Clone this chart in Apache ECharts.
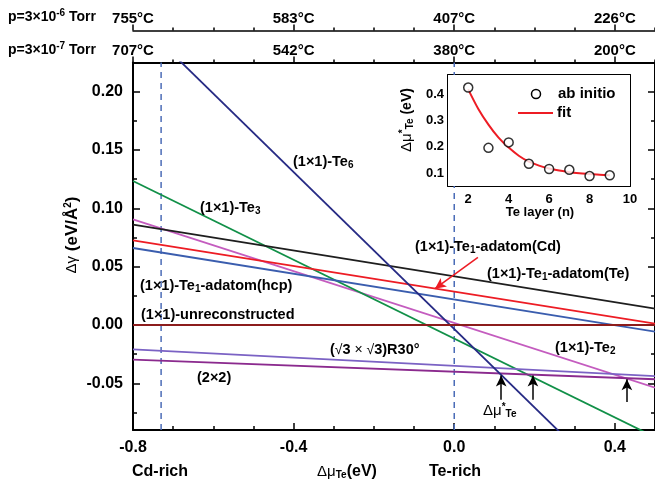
<!DOCTYPE html>
<html>
<head>
<meta charset="utf-8">
<script src="https://cdn.jsdelivr.net/npm/echarts@6/dist/echarts.min.js"></script>
<style>
html,body{margin:0;padding:0;background:#fff}
#chart{width:655px;height:489px}
</style>
</head>
<body>
<div id="chart"></div>
<script>
// surface energy lines, value at each end of the mu range
var muEnds = [-0.8, 0.5];
var te6 = [0.2656, -0.1716];
var te3 = [0.1234, -0.0961];
var te2 = [0.0906, -0.0537];
var adatomTe = [0.0860, 0.0140];
var adatomCd = [0.0726, 0.0011];
var adatomHcp = [0.0660, -0.0057];
var unrec = [0, 0];
var root3 = [-0.0209, -0.0438];
var p2x2 = [-0.0297, -0.0465];

var yRange = [-0.09, 0.225];
var muLimits = [-0.73, 0.0];
// arrows at the crossing points
var muStar = [0.117, 0.196, 0.430];
var muStarTip = [-0.0432, -0.0432, -0.0466];
var muStarTail = [-0.064, -0.064, -0.066];
var cdArrow = [[0.059, 0.058], [-0.048, 0.0311]];

var xTicks = [-0.8, -0.4, 0.0, 0.4];
var xMinor = [-0.7, -0.6, -0.5, -0.3, -0.2, -0.1, 0.1, 0.2, 0.3, 0.5];
var yTicks = [-0.05, 0, 0.05, 0.1, 0.15, 0.2];
var yMinor = [-0.075, -0.025, 0.025, 0.075, 0.125, 0.175];
var tempHigh = ['755°C', '583°C', '407°C', '226°C'];
var tempLow = ['707°C', '542°C', '380°C', '200°C'];

// inset
var layers = [2, 3, 4, 5, 6, 7, 8, 9];
var abInitio = [0.427, 0.196, 0.217, 0.135, 0.115, 0.112, 0.088, 0.091];
var fitN = [2, 2.5, 3, 3.5, 4, 4.5, 5, 5.5, 6, 6.5, 7, 7.5, 8, 8.5, 9];
var fitVals = [0.42, 0.345, 0.285, 0.235, 0.197, 0.166, 0.143, 0.128, 0.117, 0.109, 0.103, 0.099, 0.096, 0.093, 0.091];
var inXTicks = [2, 4, 6, 8, 10];
var inXMinor = [3, 5, 7, 9];
var inYTicks = [0.1, 0.2, 0.3, 0.4];

var FONT = '"Liberation Sans", Arial, Helvetica, sans-serif';
var RICH = {
	s: {fontSize: 10, fontWeight: 'bold', fontFamily: FONT, padding: [7, 0, 0, 0]},
	u: {fontSize: 10, fontWeight: 'bold', fontFamily: FONT, padding: [0, 0, 7, 0]},
	r: {fontSize: 15, fontWeight: 'normal', fontFamily: FONT},
	n: {fontSize: 14, fontWeight: 'normal', fontFamily: FONT}
};

function seg(vals, color) {
	return {
		type: 'line', xAxisIndex: 0, yAxisIndex: 0, silent: true,
		data: muEnds.map(function (m, i) { return [m, vals[i]]; }),
		symbol: 'none', lineStyle: {color: color, width: 1.8}
	};
}
function tickAxis(grid, pos, vals, len, inside, extra) {
	var a = {
		type: 'value', gridIndex: grid, position: pos,
		axisLine: {show: false, onZero: false},
		axisTick: {show: true, inside: inside, length: len, customValues: vals, lineStyle: {color: '#000', width: 1.5}},
		axisLabel: {show: false},
		splitLine: {show: false}
	};
	for (var k in extra) a[k] = extra[k];
	return a;
}
function label(x, y, text, size, align, rot, weight) {
	return {
		type: 'text', x: x, y: y, rotation: rot || 0, z: 100, silent: true,
		style: {
			text: text, fill: '#000', fontSize: size, fontWeight: weight || 'bold', fontFamily: FONT,
			align: align || 'left', textAlign: align || 'left', verticalAlign: 'middle', textVerticalAlign: 'middle',
			rich: RICH
		}
	};
}
var line2 = {show: true, onZero: false, lineStyle: {color: '#000', width: 2}};
var lab16 = {fontSize: 16, fontWeight: 'bold', color: '#000', fontFamily: FONT};

var mainX = {min: muEnds[0], max: muEnds[1]};
var mainY = {min: yRange[0], max: yRange[1]};
var inX = {min: 1, max: 10};
var inY = {min: 0.05, max: 0.475};
function m(a, b) { var o = {}; for (var k in a) o[k] = a[k]; for (var j in b) o[j] = b[j]; return o; }

var chart = echarts.init(document.getElementById('chart'));
chart.setOption({
	backgroundColor: '#fff',
	animation: false,
	grid: [
		{left: 133, top: 62.5, width: 525, height: 367.5},
		{left: 448, top: 75, width: 182, height: 111, show: true, backgroundColor: '#fff', borderWidth: 0, z: 5}
	],
	xAxis: [
		tickAxis(0, 'bottom', xTicks, 7, true, m(mainX, {axisLine: line2,
			axisLabel: m(lab16, {customValues: xTicks, margin: 10, formatter: function (v) { return v.toFixed(1); }})})),
		tickAxis(0, 'bottom', xMinor, 4, true, mainX),
		tickAxis(0, 'top', xTicks, 6, false, m(mainX, {axisLine: line2,
			axisLabel: m(lab16, {fontSize: 15, customValues: xTicks, margin: 4, formatter: function (v) { return tempLow[Math.round((v + 0.8) / 0.4)]; }})})),
		tickAxis(0, 'top', xMinor, 3, false, mainX),
		tickAxis(0, 'top', xTicks, 6, false, m(mainX, {offset: 32, axisLine: {show: true, onZero: false, lineStyle: {color: '#000', width: 1.5}},
			axisLabel: m(lab16, {fontSize: 15, customValues: xTicks, margin: 4, formatter: function (v) { return tempHigh[Math.round((v + 0.8) / 0.4)]; }})})),
		tickAxis(0, 'top', xMinor, 3, false, m(mainX, {offset: 32})),
		tickAxis(1, 'bottom', inXTicks, 4, true, m(inX, {axisLine: line2,
			axisLabel: m(lab16, {fontSize: 13, customValues: inXTicks, margin: 7})})),
		tickAxis(1, 'bottom', inXMinor, 3, true, inX),
		tickAxis(1, 'top', layers, 3, true, m(inX, {axisLine: line2}))
	],
	yAxis: [
		tickAxis(0, 'left', yTicks, 7, true, m(mainY, {axisLine: line2,
			axisLabel: m(lab16, {customValues: yTicks, margin: 10, formatter: function (v) { return v.toFixed(2); }})})),
		tickAxis(0, 'left', yMinor, 4, true, mainY),
		tickAxis(0, 'right', yTicks, 7, true, m(mainY, {axisLine: line2})),
		tickAxis(0, 'right', yMinor, 4, true, mainY),
		tickAxis(1, 'left', inYTicks, 4, true, m(inY, {axisLine: line2,
			axisLabel: m(lab16, {fontSize: 13, customValues: inYTicks, margin: 4, formatter: function (v) { return v.toFixed(1); }})})),
		tickAxis(1, 'right', inYTicks, 4, true, m(inY, {axisLine: line2}))
	],
	series: [
		{
			type: 'line', xAxisIndex: 0, yAxisIndex: 0, silent: true, symbol: 'none',
			data: [[muLimits[0], yRange[0]], [muLimits[0], yRange[1]]],
			lineStyle: {color: '#4b6cb7', width: 1.5, type: [6, 5]}
		},
		{
			type: 'line', xAxisIndex: 0, yAxisIndex: 0, silent: true, symbol: 'none',
			data: [[muLimits[1], yRange[0]], [muLimits[1], yRange[1]]],
			lineStyle: {color: '#4b6cb7', width: 1.5, type: [6, 5]}
		},
		seg(te2, '#c45cbf'),
		seg(te3, '#119048'),
		seg(adatomTe, '#1e1e1e'),
		seg(adatomHcp, '#3a5dae'),
		m(seg(adatomCd, '#ed1c24'), {markLine: {
			silent: true, symbol: ['none', 'arrow'], symbolSize: [8, 11], animation: false,
			label: {show: false}, lineStyle: {color: '#ed1c24', width: 1.5, type: 'solid'},
			data: [[{coord: cdArrow[0]}, {coord: cdArrow[1]}]]
		}}),
		seg(root3, '#7b62c4'),
		seg(p2x2, '#8b2a8e'),
		seg(te6, '#262a84'),
		m(seg(unrec, '#8c1c1c'), {markLine: {
			silent: true, symbol: ['none', 'arrow'], symbolSize: [8, 11], animation: false,
			label: {show: false}, lineStyle: {color: '#000', width: 1.5, type: 'solid'},
			data: muStar.map(function (x, i) { return [{coord: [x, muStarTail[i]]}, {coord: [x, muStarTip[i]]}]; })
		}}),
		{
			type: 'line', xAxisIndex: 6, yAxisIndex: 4, silent: true, symbol: 'none', smooth: 0.3, z: 6,
			data: fitN.map(function (n, i) { return [n, fitVals[i]]; }),
			lineStyle: {color: '#ed1c24', width: 2}
		},
		{
			type: 'scatter', xAxisIndex: 6, yAxisIndex: 4, silent: true, symbol: 'circle', symbolSize: 9, z: 7,
			data: layers.map(function (n, i) { return [n, abInitio[i]]; }),
			itemStyle: {color: '#fff', borderColor: '#000', borderWidth: 1.5}
		}
	],
	graphic: [
		label(8, 17, 'p=3×10{u|-6} Torr', 14),
		label(8, 50, 'p=3×10{u|-7} Torr', 14),
		label(72, 235, '{r|Δγ} (eV/Å{u|2})', 17, 'center', Math.PI / 2),
		label(160, 472, 'Cd-rich', 16, 'center'),
		label(347, 472, '{r|Δμ}{s|Te}(eV)', 16, 'center'),
		label(455, 472, 'Te-rich', 16, 'center'),
		label(293, 162, '(1×1)-Te{s|6}', 14.5),
		label(200, 208, '(1×1)-Te{s|3}', 14.5),
		label(140, 286, '(1×1)-Te{s|1}-adatom(hcp)', 14.5),
		label(141, 315, '(1×1)-unreconstructed', 14.5),
		label(330, 350, '({n|√}3{n| × }{n|√}3)R30°', 14.5),
		label(197, 378, '(2×2)', 14.5),
		label(415, 247, '(1×1)-Te{s|1}-adatom(Cd)', 14.5),
		label(487, 274, '(1×1)-Te{s|1}-adatom(Te)', 14.5),
		label(555, 348, '(1×1)-Te{s|2}', 14.5),
		label(483, 411, '{r|Δμ}{u|*}{s|Te}', 15, 'left', 0, 'normal'),
		label(407, 120, '{r|Δμ}{u|*}{s|Te} (eV)', 14, 'center', Math.PI / 2),
		label(540, 212, 'Te layer (n)', 13, 'center'),
		{type: 'circle', z: 100, silent: true, shape: {cx: 536, cy: 94, r: 4.5}, style: {fill: '#fff', stroke: '#000', lineWidth: 1.5}},
		label(558, 94, 'ab initio', 15),
		{type: 'line', z: 100, silent: true, shape: {x1: 518, y1: 113, x2: 553, y2: 113}, style: {stroke: '#ed1c24', lineWidth: 2}},
		label(557, 113, 'fit', 15)
	]
});
</script>
</body>
</html>
